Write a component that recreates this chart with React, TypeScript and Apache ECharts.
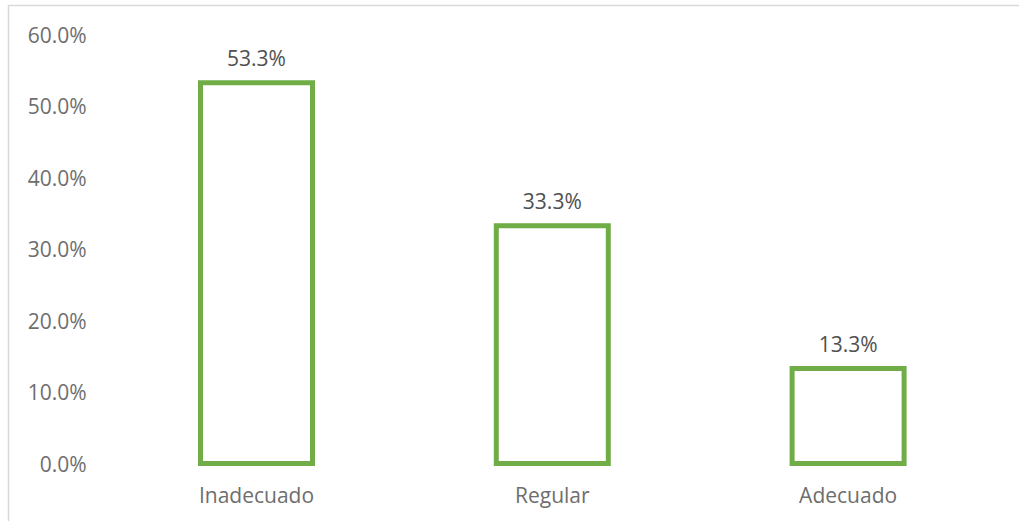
import React, { useEffect, useRef } from "react";
import * as echarts from "echarts";

const categories = ["Inadecuado", "Regular", "Adecuado"];
const values = [53.3, 33.3, 13.3];
const yTicks = [0, 10, 20, 30, 40, 50, 60];

export default function App() {
  const ref = useRef<HTMLDivElement>(null);
  useEffect(() => {
    document.body.style.margin = "0";
    const chart = echarts.init(ref.current!, null, { renderer: "svg" });
    chart.setOption({
      animation: false,
      backgroundColor: "#ffffff",
      textStyle: { fontFamily: "Open Sans" },
      grid: { left: 108.6, right: 23, top: 35, bottom: 57.5 },
      graphic: [
        { type: "line", shape: { x1: 8, y1: 5.5, x2: 1019, y2: 5.5 }, style: { stroke: "#d9d9d9", lineWidth: 1.5 } },
        { type: "line", shape: { x1: 8.5, y1: 5, x2: 8.5, y2: 521 }, style: { stroke: "#d9d9d9", lineWidth: 1.5 } },
      ],
      xAxis: {
        type: "category",
        data: categories,
        axisLine: { show: false },
        axisTick: { show: false },
        axisLabel: { color: "#6e6e6e", fontSize: 21, margin: 21, fontFamily: "Open Sans" },
      },
      yAxis: {
        type: "value",
        min: yTicks[0],
        max: yTicks[yTicks.length - 1],
        interval: 10,
        splitLine: { show: false },
        axisLine: { show: false },
        axisTick: { show: false },
        axisLabel: {
          color: "#6e6e6e",
          fontSize: 21,
          margin: 22,
          fontFamily: "Open Sans",
          formatter: (v: number) => v.toFixed(1) + "%",
        },
      },
      series: [
        {
          type: "custom",
          data: values.map((v, i) => [i, v]),
          encode: { x: 0, y: 1 },
          renderItem: (params: any, api: any) => {
            const v = api.value(1);
            const top = api.coord([api.value(0), v]);
            const base = api.coord([api.value(0), 0]);
            const w = 112;
            return {
              type: "group",
              children: [
                {
                  type: "rect",
                  shape: { x: top[0] - w / 2, y: top[1], width: w, height: base[1] - top[1] },
                  style: { fill: "#ffffff", stroke: "#70AD47", lineWidth: 5 },
                },
                {
                  type: "text",
                  style: {
                    text: v.toFixed(1) + "%",
                    x: top[0],
                    y: top[1] - 25,
                    align: "center",
                    verticalAlign: "middle",
                    fill: "#505050",
                    fontSize: 21,
                    fontFamily: "Open Sans",
                  },
                },
              ],
            };
          },
        },
      ],
    });
    return () => chart.dispose();
  }, []);
  return <div ref={ref} style={{ width: 1019, height: 521 }} />;
}
